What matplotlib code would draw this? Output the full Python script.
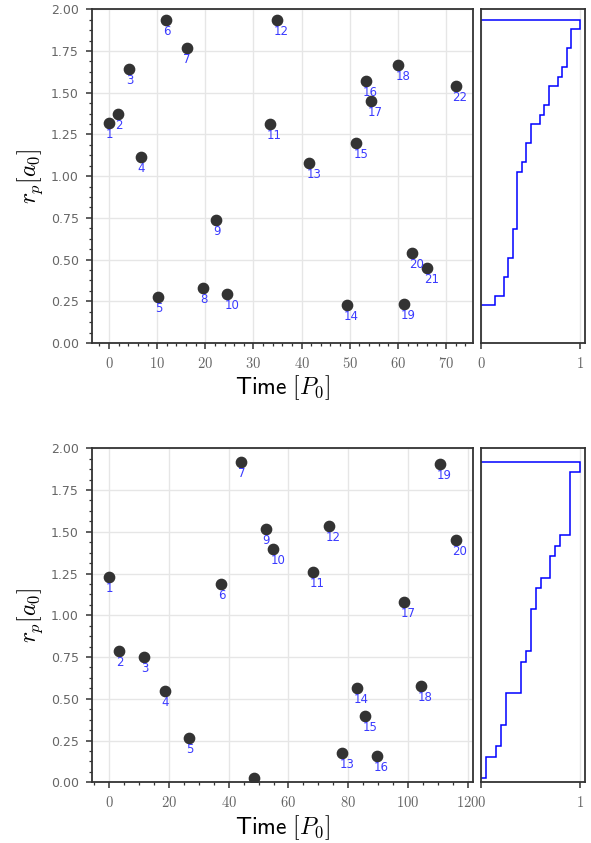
import matplotlib
matplotlib.use('Agg')
import matplotlib.pyplot as plt
from matplotlib.ticker import AutoMinorLocator, FuncFormatter
import numpy as np

# =============================================================================
# DATA
# =============================================================================

# upper run, 22 close encounters
time_a = [0.0, 1.8, 4.2, 6.6, 10.2, 11.8, 16.1, 19.6, 22.2, 24.6, 33.4,
          34.8, 41.6, 49.4, 51.4, 53.3, 54.4, 60.1, 61.3, 63.0, 66.0, 72.0]
rp_a = [1.321, 1.371, 1.641, 1.116, 0.277, 1.938, 1.770, 0.329, 0.735, 0.291,
        1.315, 1.934, 1.078, 0.226, 1.200, 1.573, 1.449, 1.667, 0.234, 0.541,
        0.449, 1.541]

# lower run, 20 close encounters
time_b = [0.0, 3.35, 11.8, 18.6, 26.9, 37.4, 44.1, 48.4, 52.4, 54.9, 68.1,
          73.4, 78.0, 82.9, 85.7, 89.5, 98.7, 104.3, 110.5, 115.9]
rp_b = [1.228, 0.788, 0.752, 0.549, 0.263, 1.187, 1.920, 0.028, 1.519, 1.395,
        1.257, 1.537, 0.175, 0.565, 0.397, 0.157, 1.078, 0.575, 1.906, 1.449]

nbins = 30

# =============================================================================
# STYLE
# =============================================================================

plt.rcParams['mathtext.fontset'] = 'cm'
plt.rcParams['font.family'] = 'DejaVu Sans'

spine_col = '#333333'
tick_col = '#666666'
grid_col = '#e6e6e6'
label_col = '#3a3aff'

serif_fmt = FuncFormatter(lambda v, pos: r'$%g$' % v)


def style_axes(ax):
    for sp in ax.spines.values():
        sp.set_color(spine_col)
        sp.set_linewidth(1.3)
    ax.tick_params(which='major', direction='out', length=4.3, width=1.1,
                   color=spine_col, labelcolor=tick_col, labelsize=9)
    ax.tick_params(which='minor', direction='out', length=2.2, width=0.9,
                   color=spine_col)
    ax.tick_params(axis='x', labelsize=10.5, pad=5)
    ax.tick_params(axis='y', pad=5)
    ax.set_axisbelow(True)
    return None


def panel(fig, rect_main, rect_cdf, time, rp):
    ax = fig.add_axes(rect_main)
    ax.scatter(time, rp, s=55, color='#333333', zorder=3)
    for i in range(len(time)):
        ax.annotate(str(i+1), (time[i], rp[i]), xytext=(-2.2, -3.6),
                    textcoords='offset points', ha='left', va='top',
                    color=label_col, fontsize=8.5, clip_on=True)
    ax.set_ylim(0., 2.)
    ax.grid(True, color=grid_col, lw=1.0)
    ax.xaxis.set_minor_locator(AutoMinorLocator())
    ax.yaxis.set_minor_locator(AutoMinorLocator(4))
    ax.xaxis.set_major_formatter(serif_fmt)
    ax.set_xlabel(r'$\mathsf{Time}\ [P_0]$', fontsize=17, labelpad=2)
    ax.set_ylabel(r'$r_p[a_0]$', fontsize=17, labelpad=4)
    style_axes(ax)

    ax2 = fig.add_axes(rect_cdf)
    ax2.hist(rp, bins=nbins, cumulative=True, density=True, histtype='step',
             orientation='horizontal', color='blue', lw=1.1)
    ax2.set_ylim(0., 2.)
    ax2.set_yticks([])
    ax2.set_xticks([0, 1])
    ax2.xaxis.set_major_formatter(serif_fmt)
    ax2.grid(True, axis='x', color=grid_col, lw=1.0)
    style_axes(ax2)
    return ax, ax2


# =============================================================================
# MAIN
# =============================================================================

W, H = 591., 843.
fig = plt.figure(figsize=(W/100., H/100.), dpi=100)

x0, x1 = 91.7, 473.
c0, c1 = 481.3, 585.

top = [9.3, 343.]
bot = [448.3, 782.3]

for (yt, yb), t, r in [(top, time_a, rp_a), (bot, time_b, rp_b)]:
    rect_main = [x0/W, 1.-yb/H, (x1-x0)/W, (yb-yt)/H]
    rect_cdf = [c0/W, 1.-yb/H, (c1-c0)/W, (yb-yt)/H]
    panel(fig, rect_main, rect_cdf, t, r)

fig.savefig('out.png', dpi=100)
plt.close()
